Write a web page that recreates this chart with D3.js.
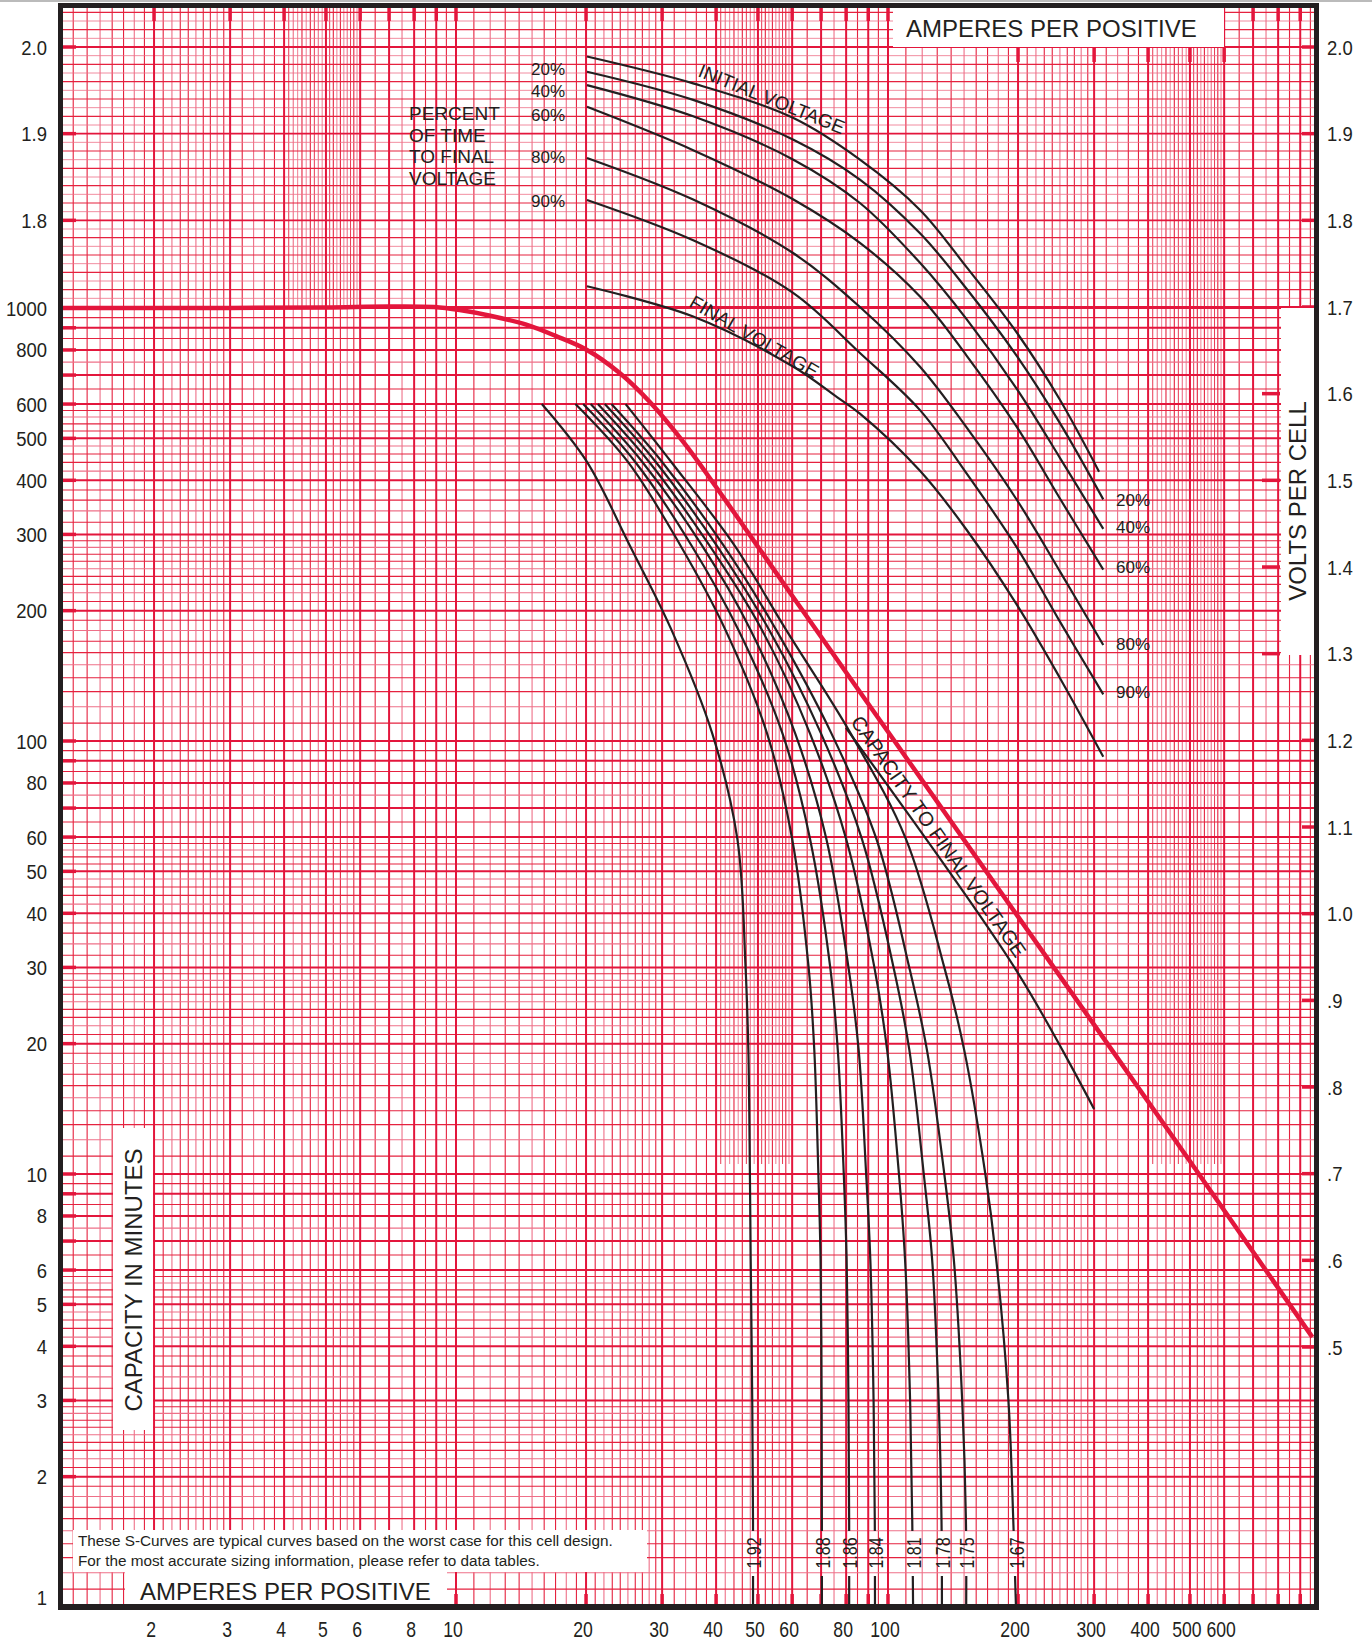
<!DOCTYPE html>
<html><head><meta charset="utf-8">
<script src="https://cdn.jsdelivr.net/npm/d3@7"></script>
<style>
body{margin:0;background:#fff;}
svg{display:block;font-family:"Liberation Sans",Arial,Helvetica,sans-serif;}
</style></head><body>
<svg id="c" width="1372" height="1648"></svg>
<script>
// ---------------- DATA ----------------
const xTickLabels = [2,3,4,5,6,8,10,20,30,40,50,60,80,100,200,300,400,500,600];
const capTickLabels = [1000,800,600,500,400,300,200,100,80,60,50,40,30,20,10,8,6,5,4,3,2,1];
const voltLeftLabels = [2.0,1.9,1.8];
const voltRightLabels = [2.0,1.9,1.8,1.7,1.6,1.5,1.4,1.3,1.2,1.1,1.0,0.9,0.8,0.7,0.6,0.5];
const pctNames = ["20%","40%","60%","80%","90%"];

// capacity to final voltage (amps, minutes)
const capacityCurve = [[1.22,1000],[3,1000],[5,1003],[7,1008],[8.9,1005],[10.2,989],[12,960],[14.6,914],[17,862],[20.1,800],[24,706],[28,609],[34,483],[40,386],[50,281],[58.4,225],[100,105],[200,39.3],[500,10.7],[960,4.2]];

// voltage curves (amps, volts)
const initialVoltage = [[20.1,1.989],[35.4,1.958],[60.4,1.918],[86.1,1.870],[118.6,1.812],[152,1.746],[199,1.670],[250,1.593],[308,1.510]];
const pct20 = [[20.1,1.9715],[35.4,1.939],[60.4,1.893],[86.1,1.847],[118.6,1.785],[152,1.721],[199,1.643],[250,1.566],[315,1.478]];
const pct40 = [[20.1,1.956],[35.4,1.920],[60.4,1.870],[86.1,1.820],[118.6,1.751],[152,1.686],[199,1.605],[250,1.526],[315,1.444]];
const pct60 = [[20.1,1.931],[35.4,1.881],[60.4,1.824],[86.1,1.774],[118.6,1.712],[152,1.644],[199,1.561],[250,1.479],[315,1.397]];
const pct80 = [[20.1,1.872],[35.4,1.824],[60.4,1.762],[86.1,1.700],[118.6,1.631],[152,1.561],[199,1.477],[250,1.395],[315,1.310]];
const pct90 = [[20.1,1.8235],[35.4,1.777],[60.4,1.716],[86.1,1.647],[118.6,1.581],[152,1.508],[199,1.422],[250,1.337],[315,1.253]];
const finalVoltage = [[20.1,1.724],[35.4,1.689],[60.4,1.631],[76.2,1.596],[86.1,1.577],[118.6,1.511],[152,1.443],[199,1.356],[250,1.272],[315,1.181]];
// black guide line carrying the "CAPACITY TO FINAL VOLTAGE" label (amps, minutes)
const capacityGuide = [[79.9,107.2],[197.8,29.6],[299.9,14.13]];

// S-curves: capacity (amps, minutes) per final voltage
const sLabels = ["1.92","1.88","1.86","1.84","1.81","1.78","1.75","1.67"];
const sMinutes = [600,441,284,181,104,59.4,30,19.4,10,6.36,3,1.58,1];
const s192 = [15.8,20.1,25.2,31.5,39.2,44.8,46.8,47.5,47.9,48.1,48.5,48.7,48.7];
const s188 = [18.9,25,33,42,52.5,60,65.5,67.5,69,69.8,70.2,70.3,70.3];
const s186 = [19.7,26,35,45,57,66,73.5,76.5,79,80.2,81,81.3,81.3];
const s184 = [20.5,27,37,48,61,72,81,85.5,89,91,92.6,93.2,93.3];
const s181 = [21.3,28,38.5,51,66,80,93,99.5,106,109.5,112.5,113.8,114.3];
const s178 = [22.1,29,40,53,70,87,103,112,121,126.5,131,133,133.3];
const s175 = [22.9,30,41.5,55,74,94,112,123,135,142,148.5,151.5,151.7];
const s167 = [24.7,31.5,44,58,82,110,135,150,168,178,190,195,197.8];

// ---------------- LAYOUT ----------------
const X0=61, X1=1317, Y0=6, Y1=1607;
const RED="#e3163c", MID="#e5223f", PINK="#ee7088", INK="#231f20";
const svg = d3.select("#c");
const xs = d3.scaleLog().domain([1,1000]).range([24,1320]);
const yc = d3.scaleLog().domain([1,1000]).range([1607,308]);
const yv = d3.scaleLinear().domain([0.5,2.0]).range([1347,47]);
const YK = yc(1000);

const defs = svg.append("defs");
defs.append("clipPath").attr("id","plot").append("rect")
  .attr("x",X0).attr("y",Y0).attr("width",X1-X0).attr("height",Y1-Y0);
const mask = defs.append("mask").attr("id","gap");
mask.append("rect").attr("x",0).attr("y",0).attr("width",1372).attr("height",1648).attr("fill","#fff");
mask.append("rect").attr("x",690).attr("y",1531).attr("width",400).attr("height",45).attr("fill","#000");

function steps(a,b,s){const r=[];for(let v=a+s;v<b-1e-6;v+=s){const t=+v.toFixed(3);if(Math.abs(t-Math.round(t))>1e-6)r.push(t);}return r;}
const minorM = [...steps(1,3,0.1),...steps(3,6,0.2),...steps(6,10,0.5)];
const denseM = steps(4,6,0.1);
const majorM = [1,2,3,4,5,6,7,8,9];
const decades=[1,10,100];
const denseBottom = {1:YK, 10:1164, 100:1164};

const grid = svg.append("g").attr("clip-path","url(#plot)");
decades.forEach(b=>{
  minorM.forEach((m,i)=>{
    const x=xs(m*b);
    grid.append("line").attr("x1",x).attr("x2",x).attr("y1",Y0).attr("y2",Y1)
      .attr("stroke", i%3==1? PINK: MID).attr("stroke-width",1.1);
  });
  denseM.forEach((m,i)=>{
    if(minorM.includes(m)) return;
    const x=xs(m*b);
    grid.append("line").attr("x1",x).attr("x2",x).attr("y1",Y0).attr("y2",denseBottom[b])
      .attr("stroke", i%3? PINK: MID).attr("stroke-width",0.9);
  });
});
decades.forEach(b=>{
  minorM.forEach((m,i)=>{
    const y=yc(m*b);
    grid.append("line").attr("x1",X0).attr("x2",X1).attr("y1",y).attr("y2",y)
      .attr("stroke", i%3==1? PINK: MID).attr("stroke-width",1.1);
  });
});
for(let k=0;k<=17;k++){
  const v=1.70+k*0.02; const y=yv(v);
  const major = Math.abs(v*10-Math.round(v*10))<1e-6;
  grid.append("line").attr("x1",X0).attr("x2",X1).attr("y1",y).attr("y2",y)
    .attr("stroke", major?RED:MID).attr("stroke-width",major?1.9:1.1);
  if(k<17){const y2=yv(v+0.01);
  grid.append("line").attr("x1",X0).attr("x2",X1).attr("y1",y2).attr("y2",y2)
    .attr("stroke", PINK).attr("stroke-width",0.8);}
}
decades.forEach(b=>{
  majorM.forEach(m=>{
    const x=xs(m*b);
    grid.append("line").attr("x1",x).attr("x2",x).attr("y1",Y0).attr("y2",Y1).attr("stroke",RED).attr("stroke-width",2);
    const y=yc(m*b);
    grid.append("line").attr("x1",X0).attr("x2",X1).attr("y1",y).attr("y2",y).attr("stroke",RED).attr("stroke-width",2);
  });
});
grid.append("line").attr("x1",X0).attr("x2",X1).attr("y1",YK).attr("y2",YK).attr("stroke",RED).attr("stroke-width",2);

// thick ticks
const ticks = svg.append("g").attr("stroke",RED).attr("stroke-width",3.5);
decades.forEach(b=>majorM.forEach(m=>{
  const y=yc(m*b);
  ticks.append("line").attr("x1",X0).attr("x2",X0+15).attr("y1",y).attr("y2",y);
  const x=xs(m*b);
  if(m*b>=2 && x<X1-3){
    const inBox = x>890 && x<1226;
    ticks.append("line").attr("x1",x).attr("x2",x).attr("y1",inBox?47:Y0).attr("y2",inBox?62:Y0+15);
    ticks.append("line").attr("x1",x).attr("x2",x).attr("y1",Y1-13).attr("y2",Y1);
  }
}));
ticks.append("line").attr("x1",X0).attr("x2",X0+15).attr("y1",YK).attr("y2",YK);
voltLeftLabels.forEach(v=>{const y=yv(v);ticks.append("line").attr("x1",X0).attr("x2",X0+15).attr("y1",y).attr("y2",y);});
voltRightLabels.forEach(v=>{const y=yv(v);
  const inBox = y>310 && y<655;
  ticks.append("line").attr("x1",inBox?1262:X1-15).attr("x2",inBox?1280:X1).attr("y1",y).attr("y2",y);});

// white boxes
const boxes=[[893,8,331,39],[125,1572,322,33],[73,1530,574,42],[113,1128,40,302],[1281,308,34,347]];
svg.append("g").selectAll("rect").data(boxes).join("rect")
  .attr("x",d=>d[0]).attr("y",d=>d[1]).attr("width",d=>d[2]).attr("height",d=>d[3]).attr("fill","#fff");

// ---------------- CURVES ----------------
const curves = svg.append("g").attr("clip-path","url(#plot)").attr("fill","none");
const lineV = d3.line().x(d=>xs(d[0])).y(d=>yv(d[1])).curve(d3.curveCatmullRom.alpha(0.5));
const lineC = d3.line().x(d=>xs(d[0])).y(d=>yc(d[1])).curve(d3.curveCatmullRom.alpha(0.5));
curves.append("path").attr("d",lineC(capacityCurve)).attr("stroke",RED).attr("stroke-width",4.5);
[initialVoltage,pct20,pct40,pct60,pct80,pct90,finalVoltage].forEach(c=>{
  curves.append("path").attr("d",lineV(c)).attr("stroke",INK).attr("stroke-width",2.2);
});
curves.append("path").attr("d",lineC(capacityGuide)).attr("stroke",INK).attr("stroke-width",2.2);
const sCurves=[s192,s188,s186,s184,s181,s178,s175,s167];
const sg = curves.append("g").attr("mask","url(#gap)");
sCurves.forEach(a=>{
  const pts = a.map((v,i)=>[v,sMinutes[i]]);
  sg.append("path").attr("d",lineC(pts)).attr("stroke",INK).attr("stroke-width",2.2);
});

// ---------------- FRAME ----------------
const frame = svg.append("g").attr("fill",INK);
frame.append("rect").attr("x",0).attr("y",0).attr("width",1372).attr("height",2).attr("fill","#bbb");
frame.append("rect").attr("x",58).attr("y",3).attr("width",1261).attr("height",5);
frame.append("rect").attr("x",58).attr("y",3).attr("width",5).attr("height",1607);
frame.append("rect").attr("x",1314).attr("y",3).attr("width",5).attr("height",1607);
frame.append("rect").attr("x",58).attr("y",1604).attr("width",1261).attr("height",6);

// ---------------- TEXT ----------------
const T = svg.append("g").attr("fill",INK);
function txt(x,y,s,o={}){
  return T.append("text").attr("transform",`translate(${x},${y}) rotate(${o.rot||0}) scale(${o.sx||1},1)`)
    .attr("text-anchor",o.anchor||"start").attr("font-size",o.size||20).text(s);
}
capTickLabels.forEach(d=>txt(47, Math.min(yc(d)+7.5,1605), String(d),{anchor:"end",size:21,sx:0.88}));
voltLeftLabels.forEach(v=>txt(47, yv(v)+7.5, v.toFixed(1),{anchor:"end",size:21,sx:0.88}));
voltRightLabels.forEach(v=>{
  const s = v>=1? v.toFixed(1) : "."+Math.round(v*10);
  txt(1327, yv(v)+7.5, s,{anchor:"start",size:21,sx:0.88});
});
xTickLabels.forEach(d=>txt(xs(d)-3, 1637, String(d),{anchor:"middle",size:22,sx:0.8}));

txt(906,37,"AMPERES PER POSITIVE",{size:24});
txt(140,1600,"AMPERES PER POSITIVE",{size:24});
txt(133,1280,"CAPACITY IN MINUTES",{size:24,rot:-90,anchor:"middle"}).attr("dy","0.36em");
txt(1297,501,"VOLTS PER CELL",{size:24,rot:-90,anchor:"middle"}).attr("dy","0.36em");
txt(78,1546,"These S-Curves are typical curves based on the worst case for this cell design.",{size:15.3});
txt(78,1566,"For the most accurate sizing information, please refer to data tables.",{size:15.3});

["PERCENT","OF TIME","TO FINAL","VOLTAGE"].forEach((s,i)=>txt(409,120+i*21.5,s,{size:19}));
const leftPctY=[75,97,121,163,207];
pctNames.forEach((s,i)=>txt(565,leftPctY[i],s,{size:17,anchor:"end"}));
const rightPctY=[506,533,573,650,698];
pctNames.forEach((s,i)=>txt(1116,rightPctY[i],s,{size:17}));

txt(697,76,"INITIAL VOLTAGE",{size:19,rot:22});
txt(688,306,"FINAL VOLTAGE",{size:19,rot:30});
txt(850,722,"CAPACITY TO FINAL VOLTAGE",{size:20,rot:55});

sLabels.forEach((s,i)=>{
  const a=sCurves[i]; const x=xs(a[a.length-1]);
  txt(x+1,1553,s,{size:20,rot:-90,anchor:"middle",sx:0.8}).attr("dy","0.36em");
});
</script>
</body></html>
